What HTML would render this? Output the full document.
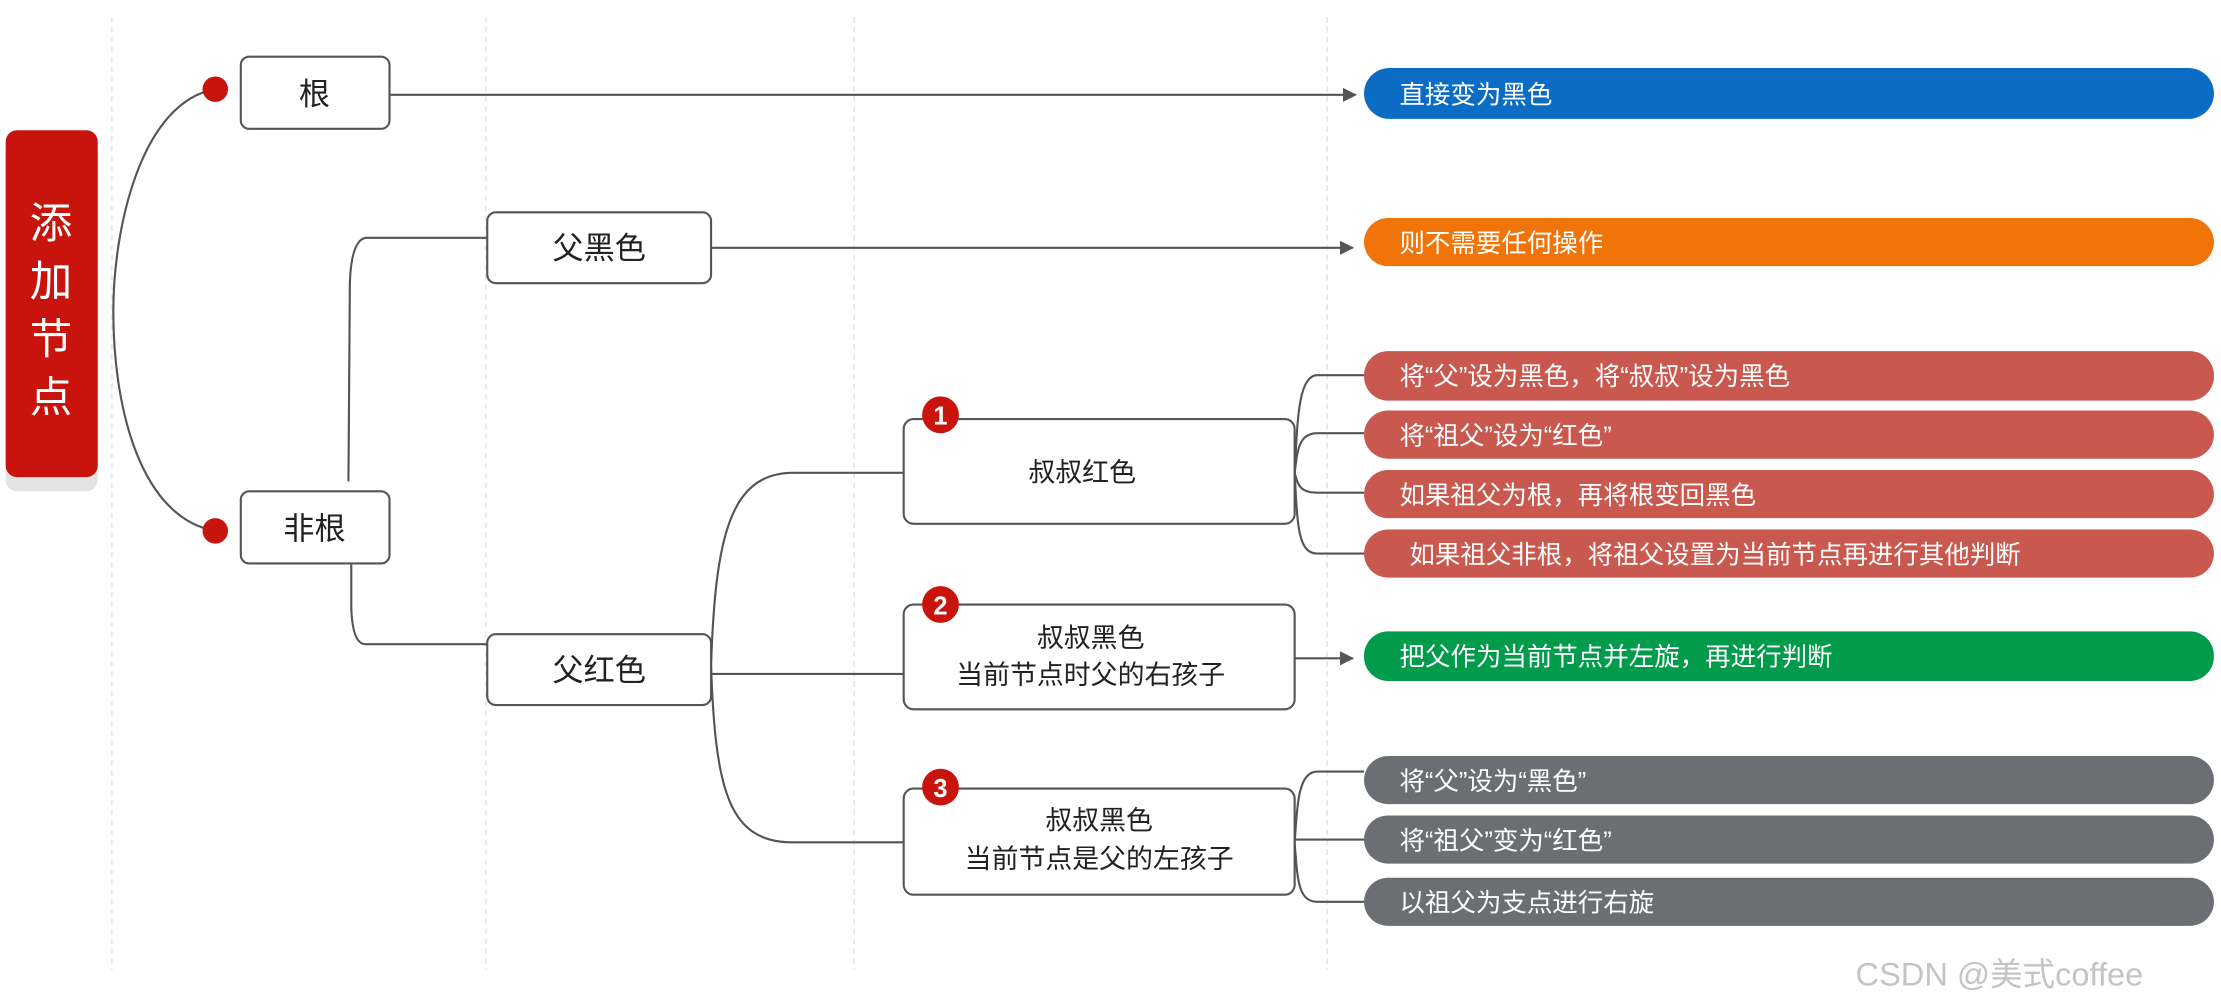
<!DOCTYPE html>
<html><head><meta charset="utf-8"><style>
html,body{margin:0;padding:0;background:#fff;}
svg{display:block;}
text{font-family:"Liberation Sans","Noto Sans CJK SC",sans-serif;}
</style></head><body>
<svg width="2221" height="1008" viewBox="0 0 1568 712" preserveAspectRatio="none" xmlns="http://www.w3.org/2000/svg">
<defs>
<marker id="ar" markerWidth="10" markerHeight="10" refX="9" refY="5" orient="auto" markerUnits="userSpaceOnUse"><path d="M0,0 L10,5 L0,10 Z" fill="#555"/></marker>
</defs>
<g stroke="#e2e2e2" stroke-width="1" stroke-dasharray="4,3">
<line x1="79" y1="12" x2="79" y2="685"/><line x1="343" y1="12" x2="343" y2="685"/>
<line x1="603" y1="12" x2="603" y2="685"/><line x1="937" y1="12" x2="937" y2="685"/>
</g>
<rect x="4" y="100" width="65" height="247" rx="8" fill="#e3e3e3"/>
<rect x="4" y="92" width="65" height="245" rx="8" fill="#c8140c"/>
<g fill="#fff" font-size="30" text-anchor="middle">
<text x="36" y="168">添</text><text x="36" y="209">加</text><text x="36" y="250">节</text><text x="36" y="291">点</text>
</g>
<g fill="none" stroke="#555" stroke-width="1.5">
<path d="M152,63 C100,72 80,160 80,220 C80,290 100,366 152,375"/>
<path d="M275,67 L957,67" marker-end="url(#ar)"/>
<path d="M502,175 L955,175" marker-end="url(#ar)"/>
<path d="M344,168 L258,168 Q248,170 247,200 L246,340"/>
<path d="M248,398 L248,430 Q249,455 258,455 L344,455"/>
<path d="M502,470 C505,380 515,334 560,334 L638,334"/>
<path d="M502,476 L638,476"/>
<path d="M502,470 C505,560 515,595 560,595 L638,595"/>
<path d="M914,465 L955,465" marker-end="url(#ar)"/>
<path d="M914,334 C916,300 916,265 930,265 L963,265"/>
<path d="M914,334 C916,320 916,306 930,306 L963,306"/>
<path d="M914,334 C916,340 916,348 930,348 L963,348"/>
<path d="M914,334 C916,370 916,391 930,391 L963,391"/>
<path d="M914,595 C916,570 916,545 930,545 L963,545"/>
<path d="M914,593 L963,593"/>
<path d="M914,595 C916,620 916,637 930,637 L963,637"/>
</g>
<circle cx="152" cy="63" r="9" fill="#c8140c"/><circle cx="152" cy="375" r="9" fill="#c8140c"/>
<g fill="#fff" stroke="#555" stroke-width="1.5">
<rect x="170" y="40" width="105" height="51" rx="6"/>
<rect x="170" y="347" width="105" height="51" rx="6"/>
<rect x="344" y="150" width="158" height="50" rx="6"/>
<rect x="344" y="448" width="158" height="50" rx="6"/>
<rect x="638" y="296" width="276" height="74" rx="7"/>
<rect x="638" y="427" width="276" height="74" rx="7"/>
<rect x="638" y="557" width="276" height="75" rx="7"/>
</g>
<g fill="#222" font-size="22" text-anchor="middle">
<text x="222" y="74">根</text><text x="222" y="381">非根</text>
<text x="423" y="183">父黑色</text><text x="423" y="481">父红色</text>
</g>
<g fill="#222" font-size="19" text-anchor="middle">
<text x="764" y="340">叔叔红色</text>
<text x="770" y="457">叔叔黑色</text><text x="770" y="483">当前节点时父的右孩子</text>
<text x="776" y="586">叔叔黑色</text><text x="776" y="613">当前节点是父的左孩子</text>
</g>
<g fill="#c8140c"><circle cx="664" cy="293" r="13"/><circle cx="664" cy="427" r="13"/><circle cx="664" cy="556" r="13"/></g>
<g fill="#fff" font-size="18" font-weight="bold" text-anchor="middle">
<text x="664" y="300">1</text><text x="664" y="434">2</text><text x="664" y="563">3</text>
</g>
<rect x="963" y="48" width="600" height="36" rx="18" fill="#0b6cc4"/>
<rect x="963" y="154" width="600" height="34" rx="17" fill="#f07408"/>
<g fill="#c9584f">
<rect x="963" y="248" width="600" height="35" rx="17"/><rect x="963" y="290" width="600" height="34" rx="17"/>
<rect x="963" y="332" width="600" height="34" rx="17"/><rect x="963" y="374" width="600" height="34" rx="17"/>
</g>
<rect x="963" y="446" width="600" height="35" rx="17" fill="#009b4b"/>
<g fill="#6b6e72">
<rect x="963" y="534" width="600" height="34" rx="17"/><rect x="963" y="576" width="600" height="34" rx="17"/>
<rect x="963" y="620" width="600" height="34" rx="17"/>
</g>
<g fill="#fff" font-size="18">
<text x="988" y="73">直接变为黑色</text>
<text x="988" y="178">则不需要任何操作</text>
<text x="988" y="272">将“父”设为黑色，将“叔叔”设为黑色</text>
<text x="988" y="314">将“祖父”设为“红色”</text>
<text x="988" y="356">如果祖父为根，再将根变回黑色</text>
<text x="995" y="398">如果祖父非根，将祖父设置为当前节点再进行其他判断</text>
<text x="988" y="470">把父作为当前节点并左旋，再进行判断</text>
<text x="988" y="558">将“父”设为“黑色”</text>
<text x="988" y="600">将“祖父”变为“红色”</text>
<text x="988" y="644">以祖父为支点进行右旋</text>
</g>
<text x="1310" y="696" fill="#c4c4c4" font-size="23">CSDN @美式coffee</text>
</svg>
</body></html>
